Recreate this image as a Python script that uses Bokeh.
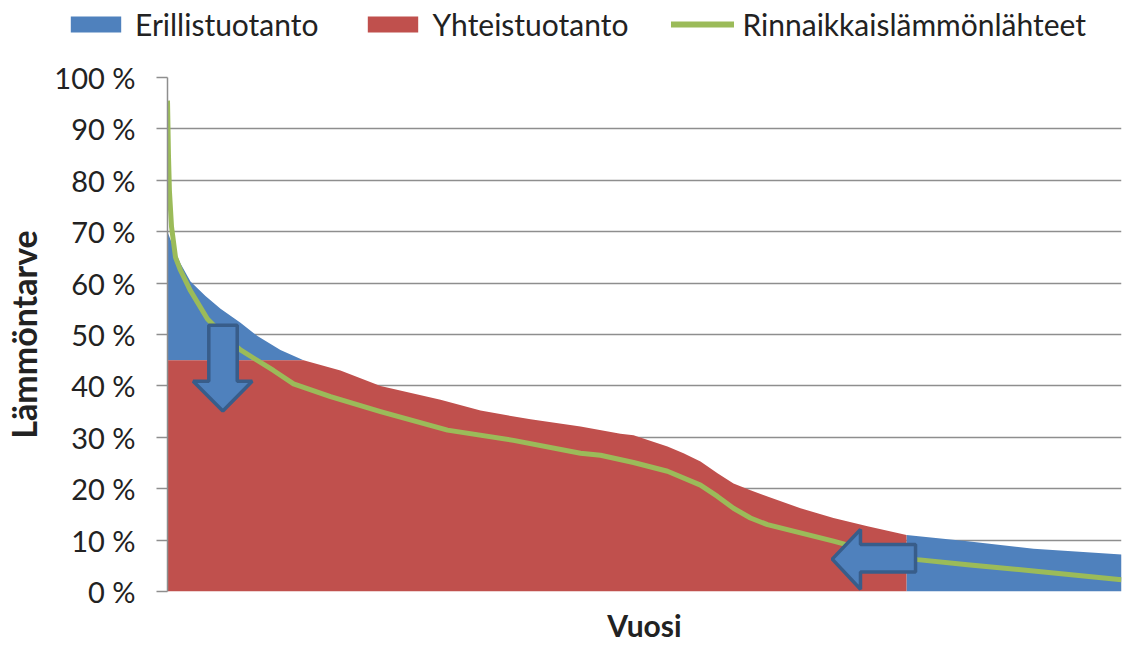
from bokeh.plotting import figure
from bokeh.layouts import column
from bokeh.models import Legend, LegendItem, FixedTicker, Range1d
from bokeh.embed import file_html
from bokeh.resources import INLINE

# ---- data (share of year %, share of peak heat demand %) ----
year_pct = [0, 0.31, 0.84, 1.36, 2.41, 3.98, 5.56, 7.65, 9.43, 11.84, 14.26, 18.13, 22.33,
            28.62, 32.81, 38.05, 43.29, 47.48, 48.85, 52.41, 54.09, 55.87, 57.65, 59.33,
            61.11, 62.89, 66.35, 69.81, 73.38, 77.46, 77.46, 83.86, 90.78, 100]
total_demand = [70, 68.5, 66, 63.8, 60.3, 57.5, 55, 52.3, 49.7, 47, 45, 43, 40,
                37.3, 35.2, 33.5, 32.1, 30.7, 30.4, 28.2, 26.9, 25.3, 23, 21,
                19.7, 18.5, 16.2, 14.3, 12.7, 11, 11, 9.8, 8.3, 7.2]
yhteistuotanto = [45, 45, 45, 45, 45, 45, 45, 45, 45, 45, 45, 43, 40,
                  37.3, 35.2, 33.5, 32.1, 30.7, 30.4, 28.2, 26.9, 25.3, 23, 21,
                  19.7, 18.5, 16.2, 14.3, 12.7, 11, 0, 0, 0, 0]

green_x = [0, 0.1, 0.2, 0.42, 0.84, 1.36, 2.41, 4.19, 6.08, 7.65, 11.11, 13.21, 17.09,
           22.33, 29.35, 36.27, 43.29, 45.39, 48.85, 52.41, 55.87, 57.65, 59.33, 61.11,
           62.89, 66.35, 69.81, 73.38, 78.62, 83.86, 90.78, 100]
rinnaikkais = [95.5, 85, 78, 71, 65, 62.5, 58.5, 53, 49.5, 47, 43, 40.4, 37.9,
               35, 31.4, 29.4, 26.9, 26.5, 25.1, 23.4, 20.7, 18.5, 16.2, 14.3,
               13, 11.4, 9.8, 8.0, 6.2, 5.2, 4.0, 2.3]

y_ticks = [0, 10, 20, 30, 40, 50, 60, 70, 80, 90, 100]
y_tick_labels = ["0 %", "10 %", "20 %", "30 %", "40 %", "50 %", "60 %", "70 %", "80 %", "90 %", "100 %"]

series_names = ["Erillistuotanto", "Yhteistuotanto", "Rinnaikkaislämmönlähteet"]

# annotation arrows (data units)
arrow_down_x = [4.33, 7.31, 7.31, 8.88, 5.8, 2.69, 4.33]
arrow_down_y = [51.8, 51.8, 40.9, 40.9, 35.1, 40.9, 40.9]
arrow_left_x = [78.41, 72.64, 72.64, 69.68, 72.64, 72.64, 78.41]
arrow_left_y = [9.15, 9.15, 12.05, 6.3, 0.44, 3.81, 3.81]

BLUE = "#4f81bd"
RED = "#c0504d"
GREEN = "#9bbb59"
ARROW_EDGE = "#385d8a"
GRID = "#8e8e8e"
TEXT = "#222222"
FONT = "Lato"

LEG_H = 44

# ---------- legend strip (series drawn out of view, only the legend shows) ----------
lg = figure(width=1123, height=LEG_H, output_backend="svg", toolbar_location=None,
            x_range=Range1d(0, 1123), y_range=Range1d(1000, 1000 + LEG_H),
            x_axis_location=None, y_axis_location=None,
            min_border_left=0, min_border_right=0, min_border_top=0, min_border_bottom=0)
lg.frame_align = False
lg.grid.visible = False
lg.outline_line_color = None
l_blue = lg.varea(x=year_pct, y1=yhteistuotanto, y2=total_demand, fill_color=BLUE)
l_red = lg.varea(x=year_pct, y1=[0] * len(year_pct), y2=yhteistuotanto, fill_color=RED)
l_green = lg.line(x=green_x, y=rinnaikkais, line_color=GREEN, line_width=6, line_cap="round")
legend = Legend(items=[LegendItem(label=series_names[0], renderers=[l_blue]),
                       LegendItem(label=series_names[1], renderers=[l_red]),
                       LegendItem(label=series_names[2], renderers=[l_green])],
                orientation="horizontal", location=(64, 2),
                label_text_font=FONT, label_text_font_size="30px", label_text_color=TEXT,
                glyph_width=63, glyph_height=20, label_standoff=8, spacing=43,
                padding=0, margin=0, border_line_color=None, background_fill_alpha=0)
lg.add_layout(legend, "center")

# ---------- main chart ----------
p = figure(width=1123, height=645 - LEG_H, output_backend="svg", toolbar_location=None,
           x_range=Range1d(0, 100), y_range=Range1d(0, 100),
           min_border_left=167, min_border_right=2, min_border_top=77 - LEG_H, min_border_bottom=51)
p.frame_align = False
p.outline_line_color = None
p.background_fill_color = "white"

p.varea(x=year_pct, y1=yhteistuotanto, y2=total_demand, fill_color=BLUE)
p.varea(x=year_pct, y1=[0] * len(year_pct), y2=yhteistuotanto, fill_color=RED)
p.line(x=green_x, y=rinnaikkais, line_color=GREEN, line_width=5, line_join="round")

p.patch(arrow_down_x, arrow_down_y, fill_color=BLUE, line_color=ARROW_EDGE, line_width=3.5)
p.patch(arrow_left_x, arrow_left_y, fill_color=BLUE, line_color=ARROW_EDGE, line_width=3.5)

# grid
p.xgrid.visible = False
p.ygrid.ticker = FixedTicker(ticks=y_ticks)
p.ygrid.grid_line_color = GRID
p.ygrid.grid_line_width = 1.5

# y axis
ya = p.yaxis[0]
ya.ticker = FixedTicker(ticks=y_ticks)
ya.major_label_overrides = {t: l for t, l in zip(y_ticks, y_tick_labels)}
ya.major_label_text_font = FONT
ya.major_label_text_font_size = "29px"
ya.major_label_text_color = TEXT
ya.major_label_standoff = 21
ya.major_tick_out = 11
ya.major_tick_in = 0
ya.minor_tick_out = 0
ya.minor_tick_in = 0
ya.major_tick_line_color = GRID
ya.major_tick_line_width = 1.5
ya.axis_line_color = GRID
ya.axis_line_width = 1.5
ya.axis_label = "Lämmöntarve"
ya.axis_label_text_font = FONT
ya.axis_label_text_font_style = "bold"
ya.axis_label_text_font_size = "34px"
ya.axis_label_text_color = TEXT
ya.axis_label_standoff = 7

# x axis
xa = p.xaxis[0]
xa.ticker = FixedTicker(ticks=[])
xa.axis_line_color = None
xa.major_tick_line_color = None
xa.minor_tick_line_color = None
xa.major_tick_out = 0
xa.major_tick_in = 0
xa.minor_tick_out = 0
xa.minor_tick_in = 0
xa.major_label_standoff = 0
xa.major_label_text_font_size = "0px"
xa.axis_label = "Vuosi"
xa.axis_label_text_font = FONT
xa.axis_label_text_font_style = "bold"
xa.axis_label_text_font_size = "30px"
xa.axis_label_text_color = TEXT
xa.axis_label_standoff = 15

layout = column(lg, p, spacing=0)
open("out.html", "w").write(file_html(layout, INLINE))
